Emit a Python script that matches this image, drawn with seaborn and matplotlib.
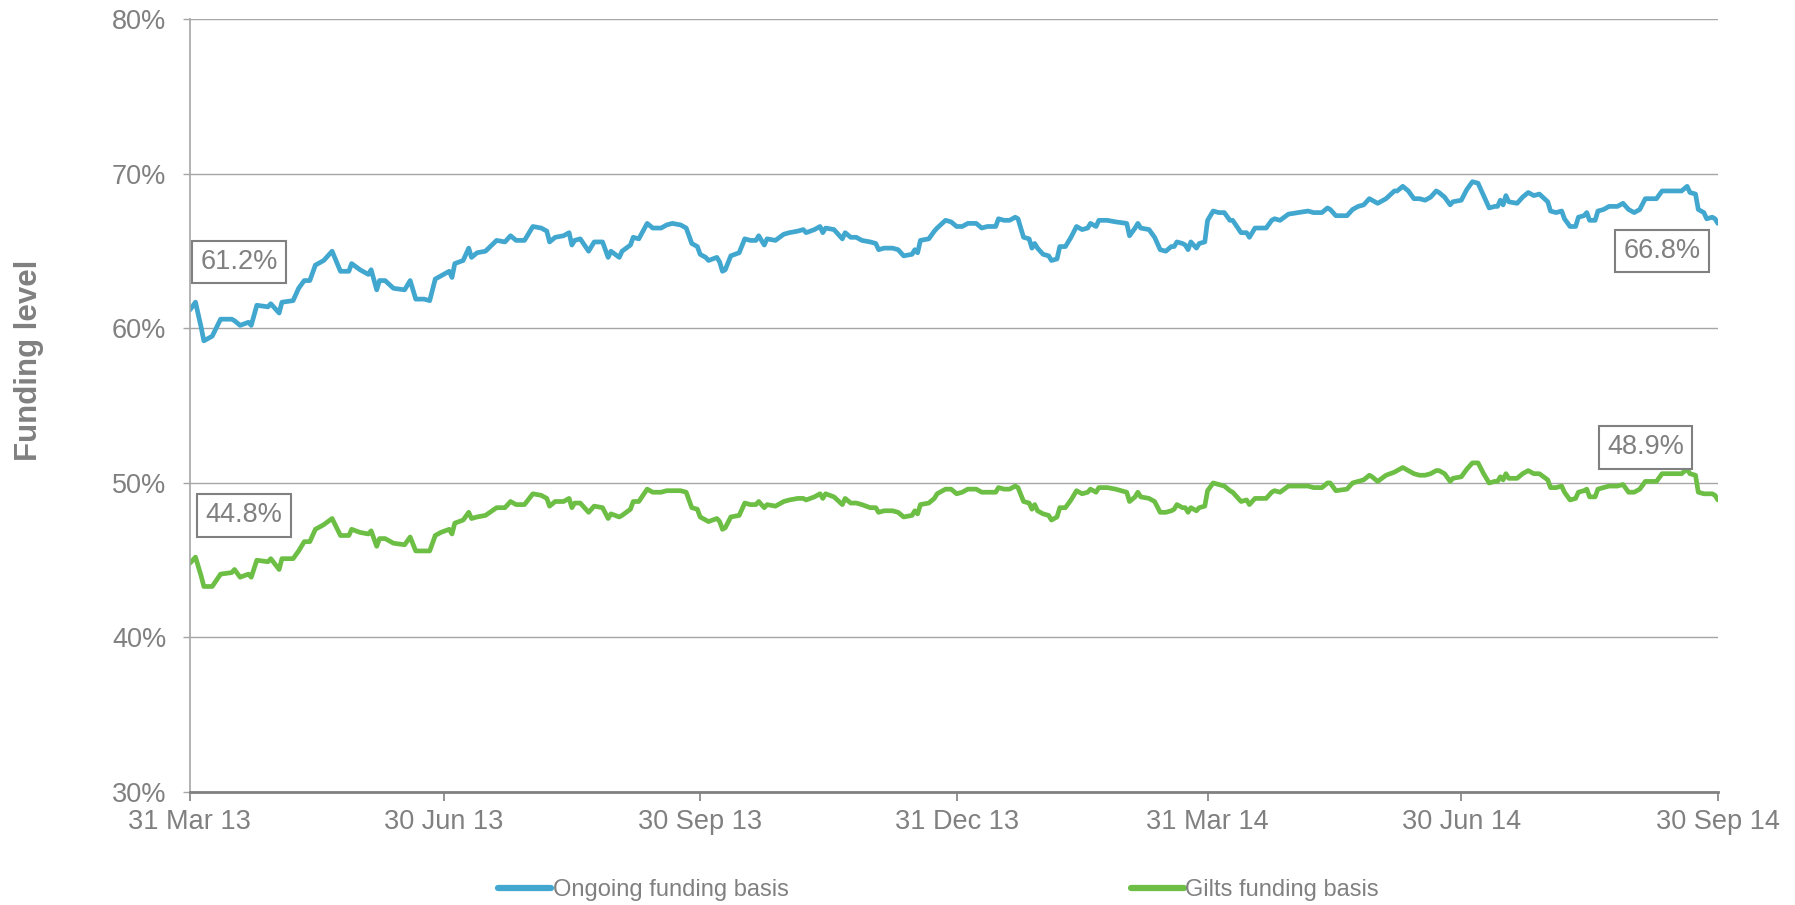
import numpy as np
import pandas as pd
import matplotlib
matplotlib.use("Agg")
import matplotlib.pyplot as plt
import seaborn as sns
from matplotlib.lines import Line2D

# ---------------- data ----------------
start_date = "2013-03-31"
day_offsets = [
    0, 2, 4, 5, 8, 11, 15, 16, 18, 21, 22, 24, 28, 29, 32, 33, 37, 39, 41, 43, 45, 48, 51, 54, 57, 58,
    61, 64, 65, 67, 68, 70, 73, 77, 79, 81, 84, 86, 88, 90, 93, 94, 95, 98, 100, 101, 103, 106, 110,
    113, 115, 117, 120, 123, 126, 128, 129, 131, 134, 136, 137, 138,
    140, 143, 145, 148, 150, 151, 154, 155, 158, 159, 161, 164, 166, 169, 171, 173, 176, 178, 180,
    182, 183, 185, 186, 189, 190, 191, 192, 194, 197, 199, 201, 203, 204, 206, 207, 210, 213, 215,
    218, 220, 221, 224, 226, 227, 228, 231, 234, 235, 237, 239, 241, 244, 246, 247, 249, 252, 254,
    256, 259, 260, 261, 262, 265, 267, 268, 271, 273, 275, 277, 279, 282,
    284, 286, 289, 290, 292, 294, 296, 297, 299, 301, 302, 303, 304, 306, 308, 309, 311, 312, 314,
    316, 318, 320, 322, 323, 325, 326, 329, 332, 336, 337, 339, 340, 341, 344, 346, 348, 350, 352,
    353, 354, 356, 357, 358, 359, 361, 362, 364, 365, 367, 369, 371, 373, 374, 377, 379, 380, 382,
    386, 388, 389, 391, 394, 401, 403, 406, 408, 409, 411, 415, 417, 419, 421, 423, 424,
    426, 429, 432, 433, 435, 437, 439, 441, 443, 445, 447, 448, 450, 452, 453, 456, 458, 460, 462,
    464, 466, 468, 469, 470, 471, 472, 473, 476, 478, 480, 482, 484, 487, 488, 490, 492, 493, 495,
    497, 498, 500, 501, 502, 504, 505, 507, 509, 512, 514, 516, 518, 520, 522, 526, 528, 530, 532,
    535, 537, 538, 540, 541, 543, 544, 546, 547, 548,
]
ongoing = [
    61.2, 61.7, 60.1, 59.2, 59.5, 60.6, 60.6, 60.5, 60.2, 60.4, 60.2, 61.5, 61.4, 61.6, 61.0, 61.7,
    61.8, 62.6, 63.1, 63.1, 64.1, 64.4, 65.0, 63.7, 63.7, 64.2, 63.8, 63.5, 63.8, 62.5, 63.1, 63.1,
    62.6, 62.5, 63.1, 61.9, 61.9, 61.8, 63.2, 63.4, 63.7, 63.3, 64.2, 64.4, 65.2, 64.6, 64.9, 65.0,
    65.7, 65.6, 66.0, 65.7, 65.7, 66.6, 66.5, 66.3, 65.6, 65.9, 66.0, 66.2, 65.4, 65.7,
    65.8, 65.0, 65.6, 65.6, 64.6, 65.0, 64.6, 65.0, 65.4, 65.9, 65.8, 66.8, 66.5, 66.5, 66.7, 66.8,
    66.7, 66.5, 65.5, 65.3, 64.8, 64.6, 64.4, 64.6, 64.3, 63.7, 63.8, 64.7, 64.9, 65.8, 65.7, 65.7,
    66.0, 65.4, 65.8, 65.7, 66.1, 66.2, 66.3, 66.4, 66.2, 66.4, 66.6, 66.2, 66.5, 66.4, 65.8, 66.2,
    65.9, 65.9, 65.7, 65.6, 65.5, 65.1, 65.2, 65.2, 65.1, 64.7, 64.8, 65.1, 64.9, 65.7, 65.8, 66.3,
    66.5, 67.0, 66.9, 66.6, 66.6, 66.8, 66.8,
    66.5, 66.6, 66.6, 67.1, 67.0, 67.0, 67.2, 67.1, 65.9, 65.8, 65.2, 65.5, 65.2, 64.8, 64.7, 64.4,
    64.5, 65.3, 65.3, 65.9, 66.6, 66.4, 66.5, 66.8, 66.6, 67.0, 67.0, 66.9, 66.8, 66.0, 66.5, 66.8,
    66.5, 66.4, 65.9, 65.1, 65.0, 65.3, 65.3, 65.6, 65.5, 65.4, 65.1, 65.6, 65.2, 65.5, 65.6, 67.0,
    67.6, 67.5, 67.5, 67.0, 67.0, 66.2, 66.2, 65.9, 66.5, 66.5, 67.0, 67.1, 67.0, 67.4, 67.6, 67.5,
    67.5, 67.8, 67.7, 67.3, 67.3, 67.7, 67.9, 68.0, 68.4, 68.3,
    68.1, 68.4, 68.9, 68.9, 69.2, 68.9, 68.4, 68.4, 68.3, 68.5, 68.9, 68.8, 68.5, 68.0, 68.2, 68.3,
    69.0, 69.5, 69.4, 68.6, 67.8, 67.9, 67.9, 68.3, 68.0, 68.6, 68.2, 68.1, 68.5, 68.8, 68.6, 68.7,
    68.2, 67.6, 67.5, 67.6, 67.1, 66.6, 66.6, 67.2, 67.3, 67.5, 67.0, 67.0, 67.6, 67.7, 67.9, 67.9,
    68.1, 67.7, 67.5, 67.7, 68.4, 68.4, 68.9, 68.9, 68.9, 68.9, 69.2, 68.8, 68.7, 67.7, 67.5, 67.1,
    67.2, 67.1, 66.8,
]
gilts = [
    44.8, 45.2, 44.0, 43.3, 43.3, 44.1, 44.2, 44.4, 43.9, 44.1, 43.9, 45.0, 44.9, 45.1, 44.4, 45.1,
    45.1, 45.6, 46.2, 46.2, 47.0, 47.3, 47.7, 46.6, 46.6, 47.0, 46.8, 46.7, 46.9, 45.9, 46.4, 46.4,
    46.1, 46.0, 46.5, 45.6, 45.6, 45.6, 46.6, 46.8, 47.0, 46.7, 47.4, 47.6, 48.1, 47.7, 47.8, 47.9,
    48.4, 48.4, 48.8, 48.6, 48.6, 49.3, 49.2, 49.0, 48.5, 48.8, 48.8, 49.0, 48.4, 48.7,
    48.7, 48.1, 48.5, 48.4, 47.7, 48.0, 47.8, 47.9, 48.3, 48.8, 48.8, 49.6, 49.4, 49.4, 49.5, 49.5,
    49.5, 49.4, 48.4, 48.3, 47.8, 47.6, 47.5, 47.7, 47.5, 47.0, 47.1, 47.8, 47.9, 48.7, 48.6, 48.6,
    48.8, 48.4, 48.6, 48.5, 48.8, 48.9, 49.0, 49.0, 48.9, 49.1, 49.3, 49.0, 49.3, 49.1, 48.6, 49.0,
    48.7, 48.7, 48.6, 48.4, 48.4, 48.1, 48.2, 48.2, 48.1, 47.8, 47.9, 48.2, 48.0, 48.6, 48.7, 49.0,
    49.3, 49.6, 49.6, 49.3, 49.4, 49.6, 49.6,
    49.4, 49.4, 49.4, 49.7, 49.6, 49.6, 49.8, 49.7, 48.8, 48.7, 48.3, 48.6, 48.2, 48.0, 47.9, 47.6,
    47.8, 48.4, 48.4, 48.9, 49.5, 49.3, 49.4, 49.6, 49.4, 49.7, 49.7, 49.6, 49.4, 48.8, 49.1, 49.4,
    49.1, 49.0, 48.8, 48.1, 48.1, 48.2, 48.3, 48.6, 48.4, 48.4, 48.1, 48.4, 48.2, 48.4, 48.5, 49.5,
    50.0, 49.9, 49.8, 49.5, 49.4, 48.8, 48.9, 48.6, 49.0, 49.0, 49.4, 49.5, 49.4, 49.8, 49.8, 49.7,
    49.7, 50.0, 50.0, 49.5, 49.6, 50.0, 50.1, 50.2, 50.5, 50.4,
    50.1, 50.5, 50.7, 50.8, 51.0, 50.8, 50.6, 50.5, 50.5, 50.6, 50.8, 50.8, 50.6, 50.1, 50.3, 50.4,
    50.9, 51.3, 51.3, 50.6, 50.0, 50.1, 50.1, 50.4, 50.2, 50.6, 50.3, 50.3, 50.6, 50.8, 50.6, 50.6,
    50.2, 49.7, 49.7, 49.8, 49.4, 48.9, 49.0, 49.4, 49.5, 49.6, 49.1, 49.1, 49.6, 49.7, 49.8, 49.8,
    49.9, 49.4, 49.4, 49.6, 50.1, 50.1, 50.6, 50.6, 50.6, 50.6, 50.9, 50.6, 50.5, 49.4, 49.3, 49.3,
    49.3, 49.2, 48.9,
]
series_names = ["Ongoing funding basis", "Gilts funding basis"]
tick_dates = ["2013-03-31", "2013-06-30", "2013-09-30", "2013-12-31",
              "2014-03-31", "2014-06-30", "2014-09-30"]
tick_labels = ["31 Mar 13", "30 Jun 13", "30 Sep 13", "31 Dec 13",
               "31 Mar 14", "30 Jun 14", "30 Sep 14"]
y_ticks = [30, 40, 50, 60, 70, 80]
start_labels = ["61.2%", "44.8%"]
end_labels = ["66.8%", "48.9%"]

# ---------------- build frame ----------------
dates = pd.Timestamp(start_date) + pd.to_timedelta(day_offsets, unit="D")
df = pd.concat([
    pd.DataFrame({"date": dates, "value": ongoing, "series": series_names[0]}),
    pd.DataFrame({"date": dates, "value": gilts, "series": series_names[1]}),
], ignore_index=True)

# ---------------- style ----------------
sns.set_theme(style="white")
plt.rcParams["font.family"] = ["Liberation Sans", "DejaVu Sans"]
grey = "#808080"
colors = {series_names[0]: "#41A7CF", series_names[1]: "#6CBE45"}

fig = plt.figure(figsize=(17.95, 9.05), dpi=100)
ax = fig.add_axes([0.1058, 0.1249, 0.957 - 0.1058, 0.9785 - 0.1249])

sns.lineplot(data=df, x="date", y="value", hue="series", palette=colors,
             estimator=None, linewidth=3.4, legend=False, ax=ax, sort=False)
for ln in ax.get_lines():
    ln.set_solid_joinstyle("round")

ax.set_ylim(30, 80)
ax.set_xlim(pd.Timestamp(tick_dates[0]), pd.Timestamp(tick_dates[-1]))
ax.set_yticks(y_ticks)
ax.set_yticklabels([f"{v}%" for v in y_ticks])
ax.set_xticks([pd.Timestamp(d) for d in tick_dates])
ax.set_xticklabels(tick_labels)
ax.set_xlabel("")
ax.set_ylabel("")

ax.grid(axis="y", color="#A6A6A6", linewidth=1.0)
ax.grid(axis="x", visible=False)
ax.set_axisbelow(True)
for s in ["top", "right"]:
    ax.spines[s].set_visible(False)
ax.spines["left"].set_color("#A6A6A6")
ax.spines["left"].set_linewidth(1.2)
ax.spines["bottom"].set_color(grey)
ax.spines["bottom"].set_linewidth(2.0)

ax.tick_params(axis="y", which="both", direction="out", length=5, width=1,
               color="#A6A6A6", labelcolor=grey, labelsize=19.5, pad=12, left=True)
ax.tick_params(axis="x", which="both", direction="out", length=6.5, width=1.2,
               color=grey, labelcolor=grey, labelsize=19.5, pad=6, bottom=True)

fig.text(29 / 1795, 1 - 360 / 905, "Funding level", rotation=90, ha="center",
         va="center", fontsize=22.5, fontweight="bold", color=grey)

bbox = dict(boxstyle="square,pad=0.3", facecolor="white", edgecolor=grey, linewidth=1.5)
d0 = pd.Timestamp(start_date)
ax.text(d0 + pd.Timedelta(days=17.6), 64.3, start_labels[0], ha="center", va="center",
        fontsize=19.5, color=grey, bbox=bbox)
ax.text(d0 + pd.Timedelta(days=19.4), 47.9, start_labels[1], ha="center", va="center",
        fontsize=19.5, color=grey, bbox=bbox)
ax.text(d0 + pd.Timedelta(days=528), 65.0, end_labels[0], ha="center", va="center",
        fontsize=19.5, color=grey, bbox=bbox)
ax.text(d0 + pd.Timedelta(days=522), 52.3, end_labels[1], ha="center", va="center",
        fontsize=19.5, color=grey, bbox=bbox)

handles = [Line2D([0], [0], color=colors[n], linewidth=4.5, solid_capstyle="round")
           for n in series_names]
leg = ax.legend(handles, series_names, loc="center", bbox_to_anchor=(0.49, -0.127),
                ncol=2, frameon=False, fontsize=17, handlelength=2.25,
                handletextpad=0.05, columnspacing=14.5)
for t in leg.get_texts():
    t.set_color(grey)

fig.savefig("out.png", dpi=100)
